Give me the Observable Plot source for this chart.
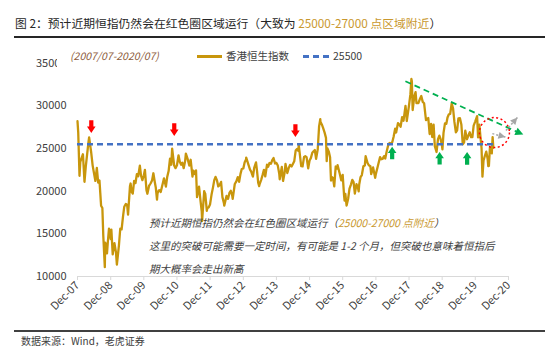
<!DOCTYPE html>
<html>
<head>
<meta charset="utf-8">
<script src="https://cdn.jsdelivr.net/npm/d3@7"></script>
<script src="https://cdn.jsdelivr.net/npm/@observablehq/plot@0.6"></script>
<style>
  html, body { margin:0; padding:0; background:#fff; }
  body { width:558px; height:357px; position:relative; overflow:hidden;
         font-family:"Noto Sans CJK SC","Noto Sans",sans-serif; color:#404040; }
  .abs { position:absolute; white-space:nowrap; }
  .gold { color:#C9982E; }
</style>
</head>
<body>
<div class="abs" style="left:15px;top:15px;font-size:11.8px;line-height:16px;color:#262626;">图 2：预计近期恒指仍然会在红色圈区域运行（大致为 <span class="gold">25000-27000 点区域附近</span>）</div>
<div class="abs" style="left:14px;top:35.5px;width:531px;height:2.5px;background:#262626;"></div>
<div id="chart" class="abs" style="left:0;top:40px;"></div>
<div class="abs" style="left:57px;top:48px;height:20px;padding-left:13px;padding-right:6px;background:#fff;font-size:10.5px;line-height:16px;font-style:italic;color:#8c5b3a;">(2007/07-2020/07)</div>
<div class="abs" style="left:197px;top:55px;width:25px;height:2.5px;background:#C8960C;"></div>
<div class="abs" style="left:226px;top:49px;font-size:10.5px;line-height:14px;color:#404040;">香港恒生指数</div>
<div class="abs" style="left:303px;top:55px;width:28px;height:2.5px;background:repeating-linear-gradient(to right,#4472C4 0 6px,transparent 6px 10px);"></div>
<div class="abs" style="left:333px;top:49px;font-size:10.5px;line-height:14px;color:#404040;">25500</div>
<div class="abs" style="left:149px;top:211px;font-size:10.5px;line-height:23px;font-style:italic;color:#404040;">
  预计近期恒指仍然会在红色圈区域运行（<span class="gold">25000-27000 点附近</span>）<br>
  这里的突破可能需要一定时间，有可能是 1-2 个月，但突破也意味着恒指后<br>
  期大概率会走出新高
</div>
<div class="abs" style="left:14px;top:329.5px;width:531px;height:2.5px;background:#404040;"></div>
<div class="abs" style="left:21px;top:334px;font-size:10px;line-height:14px;color:#404040;">数据来源：Wind，老虎证券</div>

<script>
// ---- data ----
const dates = ["2007-12-31","2008-01-08","2008-01-22","2008-01-31","2008-02-15","2008-02-29","2008-03-17","2008-03-31","2008-04-15","2008-04-30","2008-05-07","2008-05-30","2008-06-15","2008-06-30","2008-07-15","2008-07-31","2008-08-15","2008-08-29","2008-09-16","2008-09-30","2008-10-10","2008-10-27","2008-10-31","2008-11-14","2008-11-20","2008-11-28","2008-12-12","2008-12-31",
"2009-01-07","2009-01-22","2009-01-30","2009-02-10","2009-02-27","2009-03-09","2009-03-31","2009-04-15","2009-04-30","2009-05-15","2009-05-29","2009-06-15","2009-06-30","2009-07-10","2009-07-31","2009-08-07","2009-08-17","2009-08-31","2009-09-15","2009-09-30","2009-10-15","2009-10-30","2009-11-17","2009-11-30","2009-12-15","2009-12-31",
"2010-01-12","2010-01-29","2010-02-08","2010-02-26","2010-03-15","2010-03-31","2010-04-15","2010-04-30","2010-05-12","2010-05-25","2010-05-31","2010-06-15","2010-06-30","2010-07-05","2010-07-30","2010-08-10","2010-08-31","2010-09-15","2010-09-30","2010-10-15","2010-10-29","2010-11-08","2010-11-30","2010-12-15","2010-12-31",
"2011-01-17","2011-01-31","2011-02-15","2011-02-28","2011-03-15","2011-03-31","2011-04-08","2011-04-29","2011-05-16","2011-05-31","2011-06-20","2011-06-30","2011-07-15","2011-07-29","2011-08-09","2011-08-31","2011-09-15","2011-09-30","2011-10-04","2011-10-27","2011-10-31","2011-11-08","2011-11-25","2011-11-30","2011-12-15","2011-12-30",
"2012-01-16","2012-01-31","2012-02-15","2012-02-29","2012-03-15","2012-03-30","2012-04-13","2012-04-30","2012-05-15","2012-05-31","2012-06-04","2012-06-29","2012-07-16","2012-07-31","2012-08-15","2012-08-31","2012-09-05","2012-09-28","2012-10-15","2012-10-31","2012-11-15","2012-11-30","2012-12-14","2012-12-31",
"2013-01-15","2013-01-31","2013-02-01","2013-02-28","2013-03-15","2013-03-28","2013-04-16","2013-04-30","2013-05-20","2013-05-31","2013-06-13","2013-06-24","2013-06-28","2013-07-15","2013-07-31","2013-08-15","2013-08-30","2013-09-18","2013-09-30","2013-10-15","2013-10-31","2013-11-15","2013-11-29","2013-12-16","2013-12-31",
"2014-01-15","2014-01-31","2014-02-05","2014-02-28","2014-03-14","2014-03-31","2014-04-10","2014-04-30","2014-05-15","2014-05-30","2014-06-16","2014-06-30","2014-07-15","2014-07-31","2014-08-15","2014-08-29","2014-09-03","2014-09-30","2014-10-15","2014-10-31","2014-11-14","2014-11-28","2014-12-16","2014-12-31",
"2015-01-15","2015-01-30","2015-02-13","2015-02-27","2015-03-13","2015-03-31","2015-04-15","2015-04-28","2015-04-30","2015-05-15","2015-05-29","2015-06-15","2015-06-30","2015-07-08","2015-07-15","2015-07-31","2015-08-14","2015-08-24","2015-08-31","2015-09-15","2015-09-29","2015-10-15","2015-10-30","2015-11-05","2015-11-30","2015-12-15","2015-12-31",
"2016-01-15","2016-01-21","2016-01-29","2016-02-12","2016-02-29","2016-03-15","2016-03-31","2016-04-15","2016-04-29","2016-05-13","2016-05-31","2016-06-15","2016-06-24","2016-06-30","2016-07-15","2016-07-29","2016-08-15","2016-08-31","2016-09-09","2016-09-30","2016-10-14","2016-10-31","2016-11-09","2016-11-30","2016-12-23","2016-12-30",
"2017-01-16","2017-01-31","2017-02-15","2017-02-28","2017-03-15","2017-03-31","2017-04-13","2017-04-28","2017-05-15","2017-05-31","2017-06-15","2017-06-30","2017-07-14","2017-07-31","2017-08-11","2017-08-31","2017-09-15","2017-09-29","2017-10-16","2017-10-31","2017-11-22","2017-11-30","2017-12-06","2017-12-29",
"2018-01-15","2018-01-26","2018-01-31","2018-02-09","2018-02-27","2018-03-13","2018-03-23","2018-04-13","2018-04-30","2018-05-15","2018-05-31","2018-06-15","2018-06-29","2018-07-06","2018-07-31","2018-08-15","2018-08-31","2018-09-12","2018-09-28","2018-10-11","2018-10-30","2018-11-15","2018-11-30","2018-12-14","2018-12-27",
"2019-01-03","2019-01-15","2019-01-31","2019-02-15","2019-02-28","2019-03-15","2019-03-29","2019-04-15","2019-04-30","2019-05-15","2019-05-31","2019-06-14","2019-06-28","2019-07-15","2019-07-31","2019-08-15","2019-08-30","2019-09-12","2019-09-30","2019-10-15","2019-10-31","2019-11-15","2019-11-29","2019-12-13","2019-12-31",
"2020-01-20","2020-01-31","2020-02-14","2020-02-28","2020-03-09","2020-03-19","2020-03-31","2020-04-15","2020-04-30","2020-05-15","2020-05-22","2020-05-29","2020-06-09","2020-06-30","2020-07-09","2020-07-17"];

const hsi = [28200,26900,21800,23450,23900,24330,21100,22850,24300,25750,26300,24530,23000,22100,21200,22730,21000,21260,18300,18020,14800,11100,13970,13500,12700,13890,15600,14390,
15500,12600,13280,13900,12810,11400,13580,15600,15520,17000,18170,18500,18380,17250,20570,20900,19950,19720,21200,20960,22000,21750,23000,21820,21300,21870,
22500,20120,19700,20610,20900,21240,22100,21110,20400,19000,19770,20100,20130,19900,21030,21500,20540,21700,22360,23800,23100,24990,23010,22700,23040,
24200,23450,23100,23340,22700,23530,24400,23720,23000,23680,21700,22400,22000,22440,19300,20530,19000,17590,16500,20000,19860,19700,17700,17990,18100,18430,
19600,20390,21300,21680,21300,20560,20700,21090,19300,18630,18300,19440,19100,19800,20050,19480,19100,20840,21150,21640,21100,22030,22600,22660,
23400,23730,23940,23020,22530,22300,21700,22740,23370,22390,21000,20600,20800,21300,21880,22500,21730,23100,22860,23300,23210,23650,23880,23250,23310,
23000,22040,21400,22840,21200,22150,23200,22130,22700,23080,22900,23190,23500,24760,24950,24740,25400,22930,22900,24000,24090,23990,22670,23600,
23900,24510,24680,24820,23800,24900,27600,28440,28130,27820,27420,26860,26250,23520,25050,24640,23990,21250,21670,21560,20560,22890,22640,23050,21990,21270,21910,
19520,18890,19680,18320,19110,20290,20780,21320,21070,19720,20820,20470,19980,20790,21660,21890,22930,23020,24100,23300,23040,22930,22000,22790,21570,22000,
22720,23360,23990,23740,23790,24110,23830,24620,25370,25660,25560,25760,26390,27320,26880,27970,27810,27550,28690,28250,30000,29180,28220,29920,
31340,33150,32890,29510,31120,31600,30310,30320,30810,31150,30470,30310,28960,28320,28580,26700,27890,26350,27790,25270,24590,26100,26510,26090,25480,
24900,26830,27940,27900,28630,29010,29050,30280,29700,28120,26900,27120,28540,28550,27780,25500,25720,27090,26090,26500,26910,26330,26350,27690,28190,
28800,26310,27810,26130,25040,21710,23600,24150,24640,23800,22930,22960,25060,24430,26340,25090];

const level = 25500;

const xTickDates = ["2007-12-31","2008-12-31","2009-12-31","2010-12-31","2011-12-31","2012-12-31","2013-12-31","2014-12-31","2015-12-31","2016-12-31","2017-12-31","2018-12-31","2019-12-31","2020-12-31"];
const xTickLabels = ["Dec-07","Dec-08","Dec-09","Dec-10","Dec-11","Dec-12","Dec-13","Dec-14","Dec-15","Dec-16","Dec-17","Dec-18","Dec-19","Dec-20"];
const yTicks = [10000,15000,20000,25000,30000,35000];

// annotation anchors (data coordinates)
const redArrowDates = ["2008-05-31","2010-12-01","2014-07-28"];
const redArrowValues = [27570,27220,27100];
const greenArrowDates = ["2017-06-28","2018-12-03","2019-10-02"];
const greenArrowValues = [24470,23860,23850];
const trendDates = ["2017-11-21","2021-06-12"];
const trendValues = [32880,26630];
const circleDates = ["2020-07-29"];
const circleValues = [26870];
const grayFromDates = ["2020-07-06","2020-12-03"];
const grayFromValues = [26745,27100];
const grayToDates = ["2020-11-27","2021-04-08"];
const grayToValues = [26340,28630];

// ---- build tables ----
const P = (d) => new Date(d + "T00:00:00Z");
const series = dates.map((d, i) => ({date: P(d), value: hsi[i]}));
const tickTimes = xTickDates.map(P);
const redArrows = redArrowDates.map((d, i) => ({date: P(d), value: redArrowValues[i]}));
const greenArrows = greenArrowDates.map((d, i) => ({date: P(d), value: greenArrowValues[i]}));
const trend = [{x1: P(trendDates[0]), y1: trendValues[0], x2: P(trendDates[1]), y2: trendValues[1]}];
const circle = circleDates.map((d, i) => ({date: P(d), value: circleValues[i]}));
const grays = grayFromDates.map((d, i) => ({x1: P(d), y1: grayFromValues[i], x2: P(grayToDates[i]), y2: grayToValues[i]}));

// ---- custom symbols ----
const blockArrow = (s) => ({
  draw(ctx) {
    ctx.moveTo(-2.1, -6.3 * s); ctx.lineTo(2.1, -6.3 * s); ctx.lineTo(2.1, 0);
    ctx.lineTo(4.3, 0); ctx.lineTo(0, 6.3 * s); ctx.lineTo(-4.3, 0); ctx.lineTo(-2.1, 0);
    ctx.closePath();
  }
});
const head = (deg, len, half) => ({
  draw(ctx) {
    const a = deg * Math.PI / 180, c = Math.cos(a), s = Math.sin(a);
    const pts = [[0, 0], [-len, -half], [-len, half]].map(([x, y]) => [x * c - y * s, x * s + y * c]);
    ctx.moveTo(pts[0][0], pts[0][1]); ctx.lineTo(pts[1][0], pts[1][1]); ctx.lineTo(pts[2][0], pts[2][1]); ctx.closePath();
  }
});

const chart = Plot.plot({
  width: 558,
  height: 288,
  marginLeft: 77,
  marginRight: 50,
  marginTop: 22.7,
  marginBottom: 52,
  style: {fontFamily: '"Noto Sans CJK SC","Noto Sans",sans-serif', fontSize: "11px", color: "#404040", background: "transparent", overflow: "visible"},
  x: {type: "utc", domain: [tickTimes[0], tickTimes[tickTimes.length - 1]]},
  y: {domain: [10000, 35000]},
  marks: [
    Plot.ruleY([10000], {stroke: "#d9d9d9", strokeWidth: 1}),
    Plot.axisX(tickTimes, {
      tickSize: 4, tickPadding: 3, tickRotate: -45, stroke: "#d9d9d9", fill: "#404040",
      tickFormat: (d) => xTickLabels[tickTimes.findIndex((t) => +t === +d)], label: null
    }),
    Plot.axisY(yTicks, {tickSize: 0, tickPadding: 11, tickFormat: (d) => String(d), label: null, fill: "#404040"}),
    Plot.line(series, {x: "date", y: "value", stroke: "#C8960C", strokeWidth: 2.3, strokeLinejoin: "round"}),
    Plot.ruleY([level], {x1: series[0].date, x2: series[series.length - 1].date, stroke: "#4472C4", strokeWidth: 2.3, strokeDasharray: "6,4"}),
    Plot.link(trend, {x1: "x1", y1: "y1", x2: "x2", y2: "y2", stroke: "#00B050", strokeWidth: 1.8, strokeDasharray: "6,4"}),
    Plot.dot(trend, {x: "x2", y: "y2", symbol: head(24.3, 8, 4), fill: "#00B050", stroke: "none"}),
    Plot.dot(circle, {x: "date", y: "value", r: 15, stroke: "#FF0000", fill: "none", strokeWidth: 1.5, strokeDasharray: "2,2.5"}),
    Plot.link(grays, {x1: "x1", y1: "y1", x2: "x2", y2: "y2", stroke: "#A6A6A6", strokeWidth: 1.5, strokeDasharray: "2,2"}),
    Plot.dot([grays[0]], {x: "x2", y: "y2", symbol: head(15, 7, 3.5), fill: "#A6A6A6", stroke: "none"}),
    Plot.dot([grays[1]], {x: "x2", y: "y2", symbol: head(-48.5, 7, 3.5), fill: "#A6A6A6", stroke: "none"}),
    Plot.dot(redArrows, {x: "date", y: "value", symbol: blockArrow(1), fill: "#FF0000", stroke: "none"}),
    Plot.dot(greenArrows, {x: "date", y: "value", symbol: blockArrow(-1), fill: "#00B050", stroke: "none"})
  ]
});
document.getElementById("chart").appendChild(chart);
</script>
</body>
</html>
